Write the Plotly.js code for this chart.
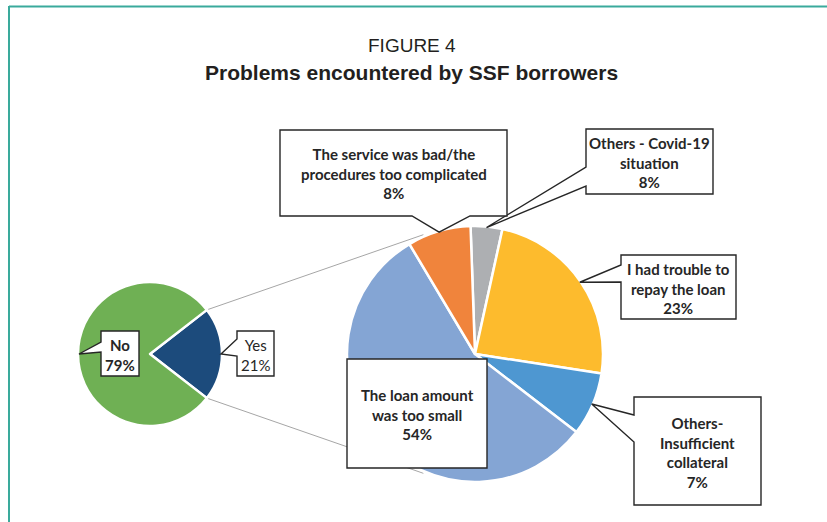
<!DOCTYPE html>
<html>
<head>
<meta charset="utf-8">
<script src="https://cdn.plot.ly/plotly-3.0.1.min.js"></script>
<style>
  html, body { margin: 0; padding: 0; background: #ffffff; }
  #chart { width: 827px; height: 522px; }
</style>
</head>
<body>
<div id="chart"></div>
<script>
// ---------- data ----------
const overallLabels = ['Yes', 'No'];
const overallValues = [21, 79];
const overallText   = ['21%', '79%'];

const problemLabels = [
  'Others - Covid-19 situation',
  'I had trouble to repay the loan',
  'Others-Insufficient collateral',
  'The loan amount was too small',
  'The service was bad/the procedures too complicated'
];
// slice sizes as drawn in the picture
const problemValues = [4, 24, 8, 56, 8];
// percentages printed in the callouts
const problemText   = ['8%', '23%', '7%', '54%', '8%'];
// how each callout breaks its label into lines
const problemLines  = [
  ['Others - Covid-19', 'situation'],
  ['I had trouble to', 'repay the loan'],
  ['Others-', 'Insufficient', 'collateral'],
  ['The loan amount', 'was too small'],
  ['The service was bad/the', 'procedures too complicated']
];

const titleLine1 = 'FIGURE 4';
const titleLine2 = 'Problems encountered by SSF borrowers';

// ---------- styling / geometry ----------
const W = 827, H = 522;
const px = x => x / W;
const py = y => 1 - y / H;
const P = (x, y) => px(x) + ',' + py(y);

const leftPie  = { cx: 150, cy: 354, r: 72, rotation: 52.2 };
const rightPie = { cx: 475, cy: 354, r: 128, rotation: -2 };

const overallColors = ['#1c4b7c', '#6fb054'];
const problemColors = ['#adafb2', '#fdbb2d', '#4e97d1', '#84a5d4', '#f0843c'];

const ink = '#262626';
const labelFont = "Lato, 'Open Sans', sans-serif";
const labelSize = 15;

function domainOf(p) {
  return { x: [px(p.cx - p.r), px(p.cx + p.r)], y: [py(p.cy + p.r), py(p.cy - p.r)] };
}
// angle (deg, clockwise from 12 o'clock) of slice boundaries
function boundaries(values, rotation) {
  const tot = values.reduce((a, b) => a + b, 0);
  const out = [rotation];
  let acc = rotation;
  values.forEach(v => { acc += v / tot * 360; out.push(acc); });
  return out;
}
function pointAt(p, deg, r) {
  const a = deg * Math.PI / 180;
  const rr = (r === undefined) ? p.r : r;
  return [p.cx + rr * Math.sin(a), p.cy - rr * Math.cos(a)];
}
function midTip(p, values, i) {
  const b = boundaries(values, p.rotation);
  return pointAt(p, (b[i] + b[i + 1]) / 2, p.r - 1);
}

// callout path: rectangle with a wedge on one side pointing at tip
function callout(box, side, w0, w1, tip) {
  const [l, t, r, b] = box;
  let d;
  if (!side) {
    d = 'M' + P(l, t) + ' L' + P(r, t) + ' L' + P(r, b) + ' L' + P(l, b) + ' Z';
  } else if (side === 'left') {
    d = 'M' + P(l, t) + ' L' + P(r, t) + ' L' + P(r, b) + ' L' + P(l, b) +
        ' L' + P(l, w1) + ' L' + P(tip[0], tip[1]) + ' L' + P(l, w0) + ' Z';
  } else if (side === 'bottom') {
    d = 'M' + P(l, t) + ' L' + P(r, t) + ' L' + P(r, b) + ' L' + P(w1, b) +
        ' L' + P(tip[0], tip[1]) + ' L' + P(w0, b) + ' L' + P(l, b) + ' Z';
  }
  return {
    type: 'path', xref: 'paper', yref: 'paper', path: d, layer: 'above',
    fillcolor: '#ffffff', line: { color: ink, width: 1.4 }
  };
}

// ---------- traces ----------
const traces = [
  {
    type: 'pie', labels: overallLabels, values: overallValues, sort: false,
    direction: 'clockwise', rotation: leftPie.rotation,
    marker: { colors: overallColors, line: { color: '#ffffff', width: 2.5 } },
    textinfo: 'none', hoverinfo: 'label+percent', showlegend: false,
    domain: domainOf(leftPie)
  },
  {
    type: 'pie', labels: problemLabels, values: problemValues, sort: false,
    direction: 'clockwise', rotation: rightPie.rotation,
    marker: { colors: problemColors, line: { color: '#ffffff', width: 2.5 } },
    textinfo: 'none', hoverinfo: 'label', showlegend: false,
    domain: domainOf(rightPie)
  }
];

// ---------- connector lines between pies ----------
const lb = boundaries(overallValues, leftPie.rotation);
const yesStart = pointAt(leftPie, lb[0]);
const yesEnd = pointAt(leftPie, lb[1]);
const upperEnd = pointAt(rightPie, 336.6, rightPie.r + 2);
const lowerEnd = pointAt(rightPie, 203.4, rightPie.r + 2);

const shapes = [
  { type: 'line', xref: 'paper', yref: 'paper', layer: 'below',
    x0: px(yesStart[0]), y0: py(yesStart[1]), x1: px(upperEnd[0]), y1: py(upperEnd[1]),
    line: { color: '#a6a6a6', width: 1 } },
  { type: 'line', xref: 'paper', yref: 'paper', layer: 'below',
    x0: px(yesEnd[0]), y0: py(yesEnd[1]), x1: px(lowerEnd[0]), y1: py(lowerEnd[1]),
    line: { color: '#a6a6a6', width: 1 } },
  // frame (teal top and left rules)
  { type: 'line', xref: 'paper', yref: 'paper', x0: px(9), x1: px(827), y0: py(6.5), y1: py(6.5),
    line: { color: '#3aaa9c', width: 2 } },
  { type: 'line', xref: 'paper', yref: 'paper', x0: px(9), x1: px(9), y0: py(6), y1: py(522),
    line: { color: '#3aaa9c', width: 2 } }
];

// callout boxes
const boxes = [
  { box: [586, 129, 713, 194], side: 'left',   w: [167, 186], pie: rightPie, vals: problemValues, i: 0 },
  { box: [621, 255, 736, 319], side: 'left',   w: [265, 282], pie: rightPie, vals: problemValues, i: 1 },
  { box: [634, 397, 761, 505], side: 'left',   w: [415, 442], pie: rightPie, vals: problemValues, i: 2 },
  { box: [347, 359, 487, 468], side: null,     w: [0, 0],     pie: rightPie, vals: problemValues, i: 3 },
  { box: [280, 130, 507, 216], side: 'bottom', w: [412, 470], pie: rightPie, vals: problemValues, i: 4 },
  { box: [237, 331, 274, 376], side: 'left',   w: [339, 356], pie: leftPie,  vals: overallValues, i: 0 },
  { box: [101, 331, 139, 376], side: 'left',   w: [342, 352], pie: leftPie,  vals: overallValues, i: 1 }
];
boxes.forEach(b => {
  const tip = midTip(b.pie, b.vals, b.i);
  shapes.push(callout(b.box, b.side, b.w[0], b.w[1], tip));
});

// ---------- annotations ----------
const annotations = [];
function boxCenter(b) { return [(b[0] + b[2]) / 2, (b[1] + b[3]) / 2]; }

problemLabels.forEach((lab, i) => {
  const b = boxes[i].box;
  const c = boxCenter(b);
  annotations.push({
    xref: 'paper', yref: 'paper', x: px(c[0]), y: py(c[1] + 1),
    xanchor: 'center', yanchor: 'middle', showarrow: false, align: 'center',
    text: '<b>' + problemLines[i].concat([problemText[i]]).join('<br>') + '</b>',
    font: { family: labelFont, size: labelSize, color: ink }
  });
});
overallLabels.forEach((lab, i) => {
  const b = boxes[5 + i].box;
  const c = boxCenter(b);
  const body = lab + '<br>' + overallText[i];
  annotations.push({
    xref: 'paper', yref: 'paper', x: px(c[0]), y: py(c[1] + 1),
    xanchor: 'center', yanchor: 'middle', showarrow: false, align: 'center',
    text: lab === 'No' ? '<b>' + body + '</b>' : body,
    font: { family: labelFont, size: labelSize, color: ink }
  });
});

// title lines
annotations.push({
  xref: 'paper', yref: 'paper', x: px(412), y: py(46), xanchor: 'center', yanchor: 'middle',
  showarrow: false, text: titleLine1,
  font: { family: "'Liberation Sans', Arial, sans-serif", size: 19, color: '#231f20' }
});
annotations.push({
  xref: 'paper', yref: 'paper', x: px(411), y: py(72), xanchor: 'center', yanchor: 'middle',
  showarrow: false, text: '<b>' + titleLine2 + '</b>',
  font: { family: "'Liberation Sans', Arial, sans-serif", size: 21, color: '#231f20' }
});

const layout = {
  width: W, height: H,
  margin: { l: 0, r: 0, t: 0, b: 0 },
  paper_bgcolor: '#ffffff', plot_bgcolor: '#ffffff',
  showlegend: false,
  shapes: shapes,
  annotations: annotations
};

Plotly.newPlot('chart', traces, layout, { displayModeBar: false, staticPlot: true });
</script>
</body>
</html>
